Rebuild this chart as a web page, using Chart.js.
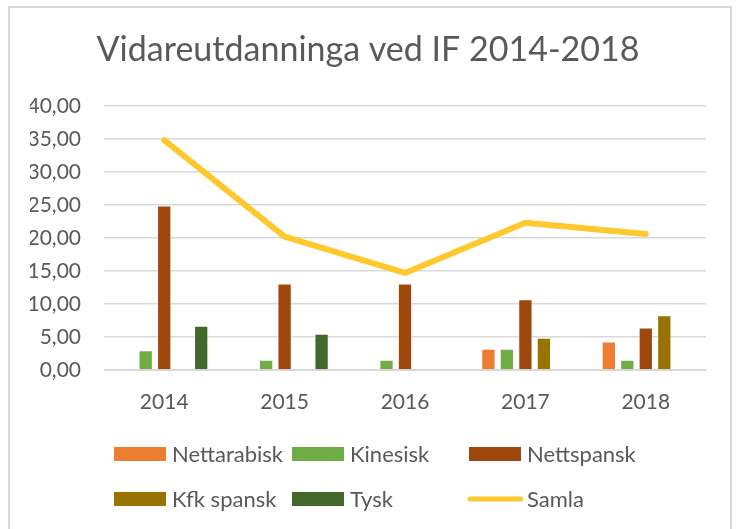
<!DOCTYPE html>
<html>
<head>
<meta charset="utf-8">
<script src="https://cdn.jsdelivr.net/npm/chart.js@4/dist/chart.umd.min.js"></script>
<style>
  html, body { margin: 0; padding: 0; background: #fff; }
  #wrap { position: relative; width: 736px; height: 529px; overflow: hidden; }
  #frame { position: absolute; left: 8px; top: 6px; width: 724px; height: 560px; border: 2px solid #D9D9D9; box-sizing: border-box; }
  canvas { position: absolute; left: 0; top: 0; }
</style>
</head>
<body>
<div id="wrap">
  <div id="frame"></div>
  <canvas id="chart" width="736" height="529"></canvas>
</div>
<script>
// --- data ---
const years = ['2014', '2015', '2016', '2017', '2018'];
const nettarabisk = [null, null, null, 3.2, 4.3];
const kinesisk = [3.0, 1.55, 1.55, 3.2, 1.55];
const nettspansk = [24.9, 13.1, 13.1, 10.7, 6.45];
const kfkSpansk = [null, null, null, 4.9, 8.3];
const tysk = [6.7, 5.5, null, null, null];
const samla = [34.8, 20.2, 14.7, 22.3, 20.6];

const textColor = '#595959';
const gridColor = '#D9D9D9';
const fontFamily = 'Lato, "Open Sans", sans-serif';

function bar(label, data, color) {
  return {
    type: 'bar', label, data, order: 1,
    backgroundColor: color,
    borderColor: 'rgba(255,255,255,0.5)',
    borderWidth: 1,
    categoryPercentage: 0.768,
    barPercentage: 0.773
  };
}

// legend laid out in a 3-column grid like the original
const gridLegend = {
  id: 'gridLegend',
  afterDraw(chart) {
    const ctx = chart.ctx;
    const cols = [114, 292, 469];
    const rows = [454, 499];
    ctx.save();
    ctx.font = '22px ' + fontFamily;
    ctx.textBaseline = 'middle';
    chart.data.datasets.forEach((ds, i) => {
      const x = cols[i % 3];
      const y = rows[Math.floor(i / 3)];
      if (ds.type === 'line') {
        ctx.strokeStyle = ds.borderColor;
        ctx.lineWidth = 5;
        ctx.lineCap = 'round';
        ctx.beginPath();
        ctx.moveTo(x + 1, y);
        ctx.lineTo(x + 52, y);
        ctx.stroke();
      } else {
        ctx.fillStyle = ds.backgroundColor;
        ctx.fillRect(x, y - 7, 52, 14);
      }
      ctx.fillStyle = textColor;
      ctx.fillText(ds.label, x + 58, y + 1);
    });
    ctx.restore();
  }
};

new Chart(document.getElementById('chart'), {
  data: {
    labels: years,
    datasets: [
      bar('Nettarabisk', nettarabisk, '#ED7D31'),
      bar('Kinesisk', kinesisk, '#70AD47'),
      bar('Nettspansk', nettspansk, '#9E480E'),
      bar('Kfk spansk', kfkSpansk, '#997300'),
      bar('Tysk', tysk, '#43682B'),
      {
        type: 'line', label: 'Samla', data: samla, order: 0,
        borderColor: '#FFC82F', backgroundColor: '#FFC82F',
        borderWidth: 6, pointRadius: 0, borderCapStyle: 'round',
        borderJoinStyle: 'round', tension: 0
      }
    ]
  },
  options: {
    responsive: false,
    animation: false,
    layout: { padding: { left: 30, right: 30, top: 0, bottom: 115 } },
    plugins: {
      legend: { display: false },
      tooltip: { enabled: false },
      title: {
        display: true,
        text: 'Vidareutdanninga ved IF 2014-2018',
        color: textColor,
        font: { family: fontFamily, size: 34, weight: 'normal', lineHeight: 1.2 },
        padding: { top: 30, bottom: 35 }
      }
    },
    scales: {
      x: {
        grid: { display: false, drawTicks: false },
        border: { display: true, color: gridColor, width: 1 },
        ticks: { color: textColor, font: { family: fontFamily, size: 21 }, padding: 20 },
        afterFit: s => { s.height = 44; }
      },
      y: {
        min: 0, max: 40,
        ticks: {
          stepSize: 5, color: textColor, padding: 23,
          font: { family: fontFamily, size: 21 },
          callback: v => v.toFixed(2).replace('.', ',')
        },
        grid: { color: gridColor, lineWidth: 1.5, drawTicks: false },
        border: { display: false },
        afterFit: s => { s.width = 74; }
      }
    }
  },
  plugins: [gridLegend]
});
</script>
</body>
</html>
